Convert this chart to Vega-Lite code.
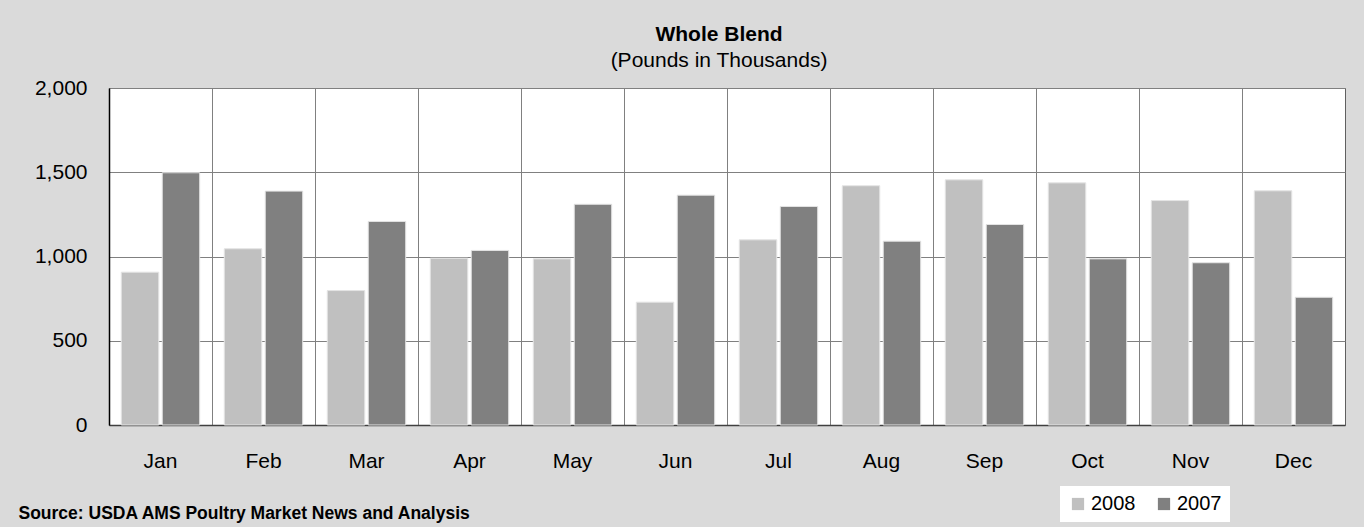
{
  "$schema": "https://vega.github.io/schema/vega-lite/v6.json",
  "autosize": {"type": "none"},
  "width": 1236,
  "height": 337,
  "padding": {"left": 109, "top": 88, "right": 19, "bottom": 102},
  "background": "#dadada",
  "title": {
    "text": "Whole Blend",
    "subtitle": "(Pounds in Thousands)",
    "font": "Liberation Sans",
    "fontSize": 21,
    "fontWeight": "bold",
    "color": "#000000",
    "subtitleFont": "Liberation Sans",
    "subtitleFontSize": 21,
    "subtitleColor": "#000000",
    "subtitlePadding": 5,
    "anchor": "middle",
    "dx": -8,
    "offset": 6
  },
  "data": {
    "values": [
      {"month": "Jan", "year": "2008", "value": 907},
      {"month": "Jan", "year": "2007", "value": 1497},
      {"month": "Feb", "year": "2008", "value": 1046},
      {"month": "Feb", "year": "2007", "value": 1388},
      {"month": "Mar", "year": "2008", "value": 798},
      {"month": "Mar", "year": "2007", "value": 1208},
      {"month": "Apr", "year": "2008", "value": 990},
      {"month": "Apr", "year": "2007", "value": 1036},
      {"month": "May", "year": "2008", "value": 986},
      {"month": "May", "year": "2007", "value": 1310},
      {"month": "Jun", "year": "2008", "value": 729},
      {"month": "Jun", "year": "2007", "value": 1364},
      {"month": "Jul", "year": "2008", "value": 1099},
      {"month": "Jul", "year": "2007", "value": 1297},
      {"month": "Aug", "year": "2008", "value": 1420},
      {"month": "Aug", "year": "2007", "value": 1091},
      {"month": "Sep", "year": "2008", "value": 1455},
      {"month": "Sep", "year": "2007", "value": 1190},
      {"month": "Oct", "year": "2008", "value": 1437},
      {"month": "Oct", "year": "2007", "value": 986},
      {"month": "Nov", "year": "2008", "value": 1332},
      {"month": "Nov", "year": "2007", "value": 963},
      {"month": "Dec", "year": "2008", "value": 1390},
      {"month": "Dec", "year": "2007", "value": 758}
    ]
  },
  "mark": {"type": "bar", "stroke": "#e4e4e4", "strokeWidth": 1},
  "encoding": {
    "x": {
      "field": "month",
      "type": "nominal",
      "sort": ["Jan", "Feb", "Mar", "Apr", "May", "Jun", "Jul", "Aug", "Sep", "Oct", "Nov", "Dec"],
      "scale": {"paddingInner": 0, "paddingOuter": 0},
      "axis": {
        "title": "Source: USDA AMS Poultry Market News and Analysis",
        "titleFont": "Liberation Sans",
        "titleFontSize": 17.5,
        "titleFontWeight": "bold",
        "titleColor": "#000000",
        "titleAnchor": "start",
        "titleAlign": "left",
        "titleBaseline": "alphabetic",
        "titleX": -91,
        "titleY": 93,
        "labelAngle": 0,
        "labelFont": "Liberation Sans",
        "labelFontSize": 21,
        "labelColor": "#000000",
        "labelPadding": 25,
        "bandPosition": 0,
        "ticks": false,
        "grid": true,
        "gridColor": "#808080",
        "gridWidth": 1,
        "domainColor": "#404040",
        "domainWidth": 1.5
      }
    },
    "xOffset": {
      "field": "year",
      "type": "nominal",
      "sort": ["2008", "2007"],
      "scale": {"paddingInner": 0.085, "paddingOuter": 0.3}
    },
    "y": {
      "field": "value",
      "type": "quantitative",
      "scale": {"domain": [0, 2000]},
      "axis": {
        "title": null,
        "values": [0, 500, 1000, 1500, 2000],
        "format": ",d",
        "labelFont": "Liberation Sans",
        "labelFontSize": 21,
        "labelColor": "#000000",
        "labelPadding": 22,
        "ticks": false,
        "grid": true,
        "gridColor": "#808080",
        "gridWidth": 1,
        "domainColor": "#000000",
        "domainWidth": 1.5
      }
    },
    "color": {
      "field": "year",
      "type": "nominal",
      "sort": ["2008", "2007"],
      "scale": {"domain": ["2008", "2007"], "range": ["#c0c0c0", "#808080"]},
      "legend": {
        "title": null,
        "orient": "none",
        "direction": "horizontal",
        "legendX": 951,
        "legendY": 398,
        "fillColor": "#ffffff",
        "padding": 8,
        "symbolType": "square",
        "symbolSize": 150,
        "symbolStrokeWidth": 0,
        "labelFont": "Liberation Sans",
        "labelFontSize": 20,
        "labelColor": "#000000",
        "labelOffset": 3,
        "columnPadding": 18
      }
    }
  },
  "config": {
    "view": {"fill": "#ffffff", "stroke": "#606060", "strokeWidth": 1}
  }
}
